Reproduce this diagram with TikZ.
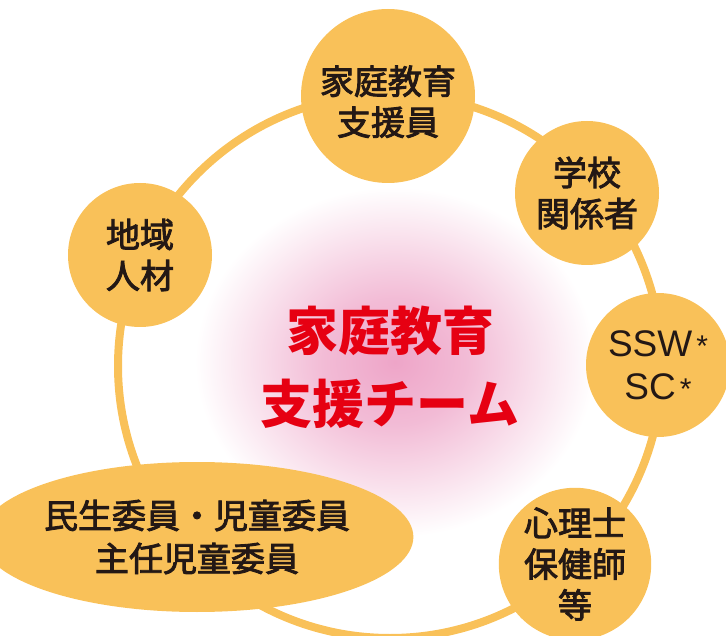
\documentclass[tikz,border=0pt]{standalone}
\usepackage{fontspec}
\usepackage{xcolor}
\usetikzlibrary{shapes.geometric, positioning}
\newfontfamily\cjk{Noto Sans CJK JP}[FakeBold=2.5]
\newfontfamily\cjkteam{Noto Sans CJK JP}
\newfontfamily\latinsans{Liberation Sans}
\definecolor{member}{RGB}{249, 193, 89}
\definecolor{teamred}{RGB}{230, 0, 18}
\definecolor{glowpink}{RGB}{238, 165, 200}
\definecolor{ink}{RGB}{35, 24, 21}
\pgfdeclareradialshading{teamglow}{\pgfpoint{0bp}{0bp}}{color(0bp)=(glowpink); color(9bp)=(glowpink!75!white); color(25bp)=(white); color(50bp)=(white)}

\begin{document}
\begin{tikzpicture}[
    x=1pt, y=-1pt,
    member/.style={circle, fill=member, inner sep=0pt, minimum size=144pt,
                   align=center, text=ink, font=\cjk\fontsize{34}{41}\selectfont},
    wide/.style={ellipse, fill=member, inner sep=0pt, minimum width=380pt,
                 minimum height=150pt, align=center, text=ink, font=\cjk\fontsize{34}{43}\selectfont},
    team/.style={align=center, text=teamred, font=\cjkteam\bfseries\fontsize{52}{73}\selectfont},
    ring/.style={draw=member, line width=8pt}
]
\useasboundingbox (0,0) rectangle (726,636);

% Glow behind the team
\coordinate (glowcentre) at (395, 362);
\shade[shading=teamglow] (glowcentre) ellipse [x radius=200pt, y radius=175pt];

% Ring through all members
\coordinate (hub) at (390, 366);
\draw[ring] (hub) circle (272pt);

% Centre
\node[team] (team) at (390, 367) {家庭教育\\支援チーム};

% Members
\node[member, minimum size=174pt] (supporter) at (388, 96) {\rule{0pt}{40pt}家庭教育\\支援員};

\node[member] (school) at (587, 193) {学校\\関係者};

\node[member, font=\latinsans\fontsize{37}{43}\selectfont] (ssw) at (658, 365) {%
    SSW\kern4pt{\fontsize{30}{30}\selectfont*}\\SC\kern4pt{\fontsize{30}{30}\selectfont*}};

\node[member] (psych) at (575, 564) {心理士\\保健師\\等};

\node[wide] (welfare) at (197, 537) {民生委員・児童委員\\主任児童委員};

\node[member] (local) at (140, 255) {地域\\人材};

\end{tikzpicture}
\end{document}
